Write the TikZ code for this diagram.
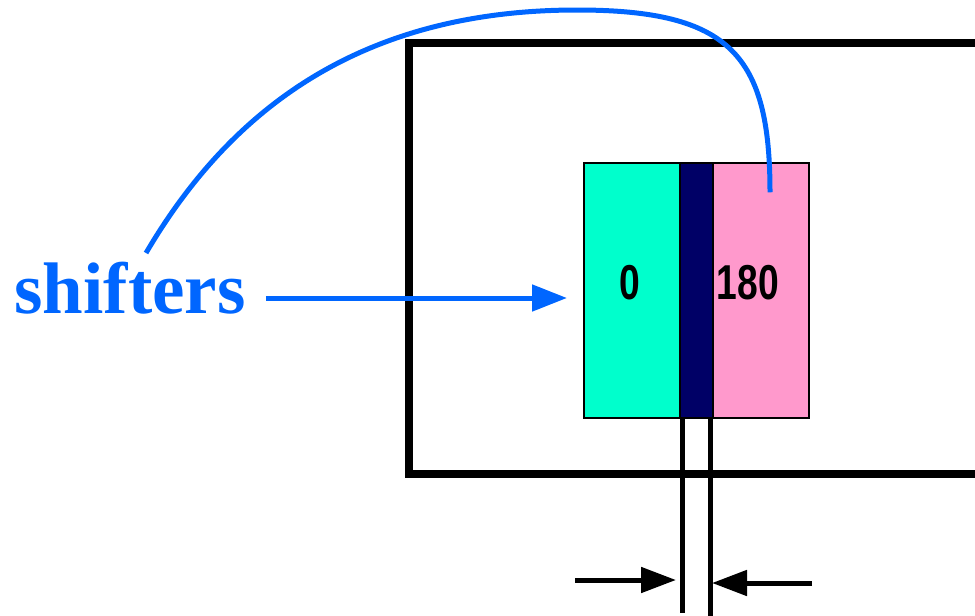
\documentclass[tikz,border=0pt]{standalone}
\usepackage{fontspec}
\usetikzlibrary{arrows.meta}
\newfontfamily\labfont{Liberation Serif}
\newfontfamily\digitfont{Liberation Sans}[FakeStretch=0.76]
\definecolor{zerocol}{RGB}{0,255,204}
\definecolor{picol}{RGB}{255,153,204}
\definecolor{stripcol}{RGB}{0,0,102}
\definecolor{shiftblue}{RGB}{0,102,255}

\begin{document}
\begin{tikzpicture}[x=1pt,y=-1pt,
		phase/.style={draw=black, line width=1.5pt, minimum height=255pt, inner sep=0pt},
		digit/.style={font=\digitfont\bfseries\fontsize{49}{52}\selectfont, inner sep=0pt},
		wall/.style={line width=5pt},
		dimarrow/.style={line width=5pt, -{Triangle[length=35pt,width=25pt]}},
		pointer/.style={draw=shiftblue, line width=5pt, -{Triangle[length=35pt,width=26pt]}},
		pointerline/.style={draw=shiftblue, line width=5pt}]
		\useasboundingbox (0,0) rectangle (975,616);
		% mask outline
		\draw[line width=8pt] (990,43) -| (409,474) -- (990,474);
		% the shifter pair
		\node[phase, fill=zerocol, minimum width=96pt] (zero) at (632,290.5) {};
		\node[phase, fill=stripcol, minimum width=33pt] (strip) at (696.5,290.5) {};
		\node[phase, fill=picol, minimum width=96pt] (pi) at (761,290.5) {};
		\node[digit] (zerotxt) at (630,283) {0};
		\node[digit] (pitxt) at (748,283) {180};
		% gap lines
		\draw[wall] (682.5,418) -- (682.5,613);
		\draw[wall] (710.5,418) -- (710.5,616);
		\draw[dimarrow] (575,580) -- (676,580);
		\draw[dimarrow] (812,583) -- (712,583);
		% label
		\node[inner sep=0pt, anchor=base, text=shiftblue, font=\labfont\bfseries\fontsize{73}{80}\selectfont] (shift) at (130,313) {shifters};
		\coordinate (aim) at (567,298);
		\coordinate (lead) at ([xshift=16pt,yshift=60pt]shift.base);
		\coordinate (hook) at ([xshift=9pt,yshift=-30pt]pi.north);
		\draw[pointer] ([xshift=20pt,yshift=15pt]shift.base east) -- (aim);
		\draw[pointerline] (lead) .. controls (230,110) and (360,10) .. (577,10) .. controls (730,10) and (770,55) .. (hook);
	\end{tikzpicture}
\end{document}
